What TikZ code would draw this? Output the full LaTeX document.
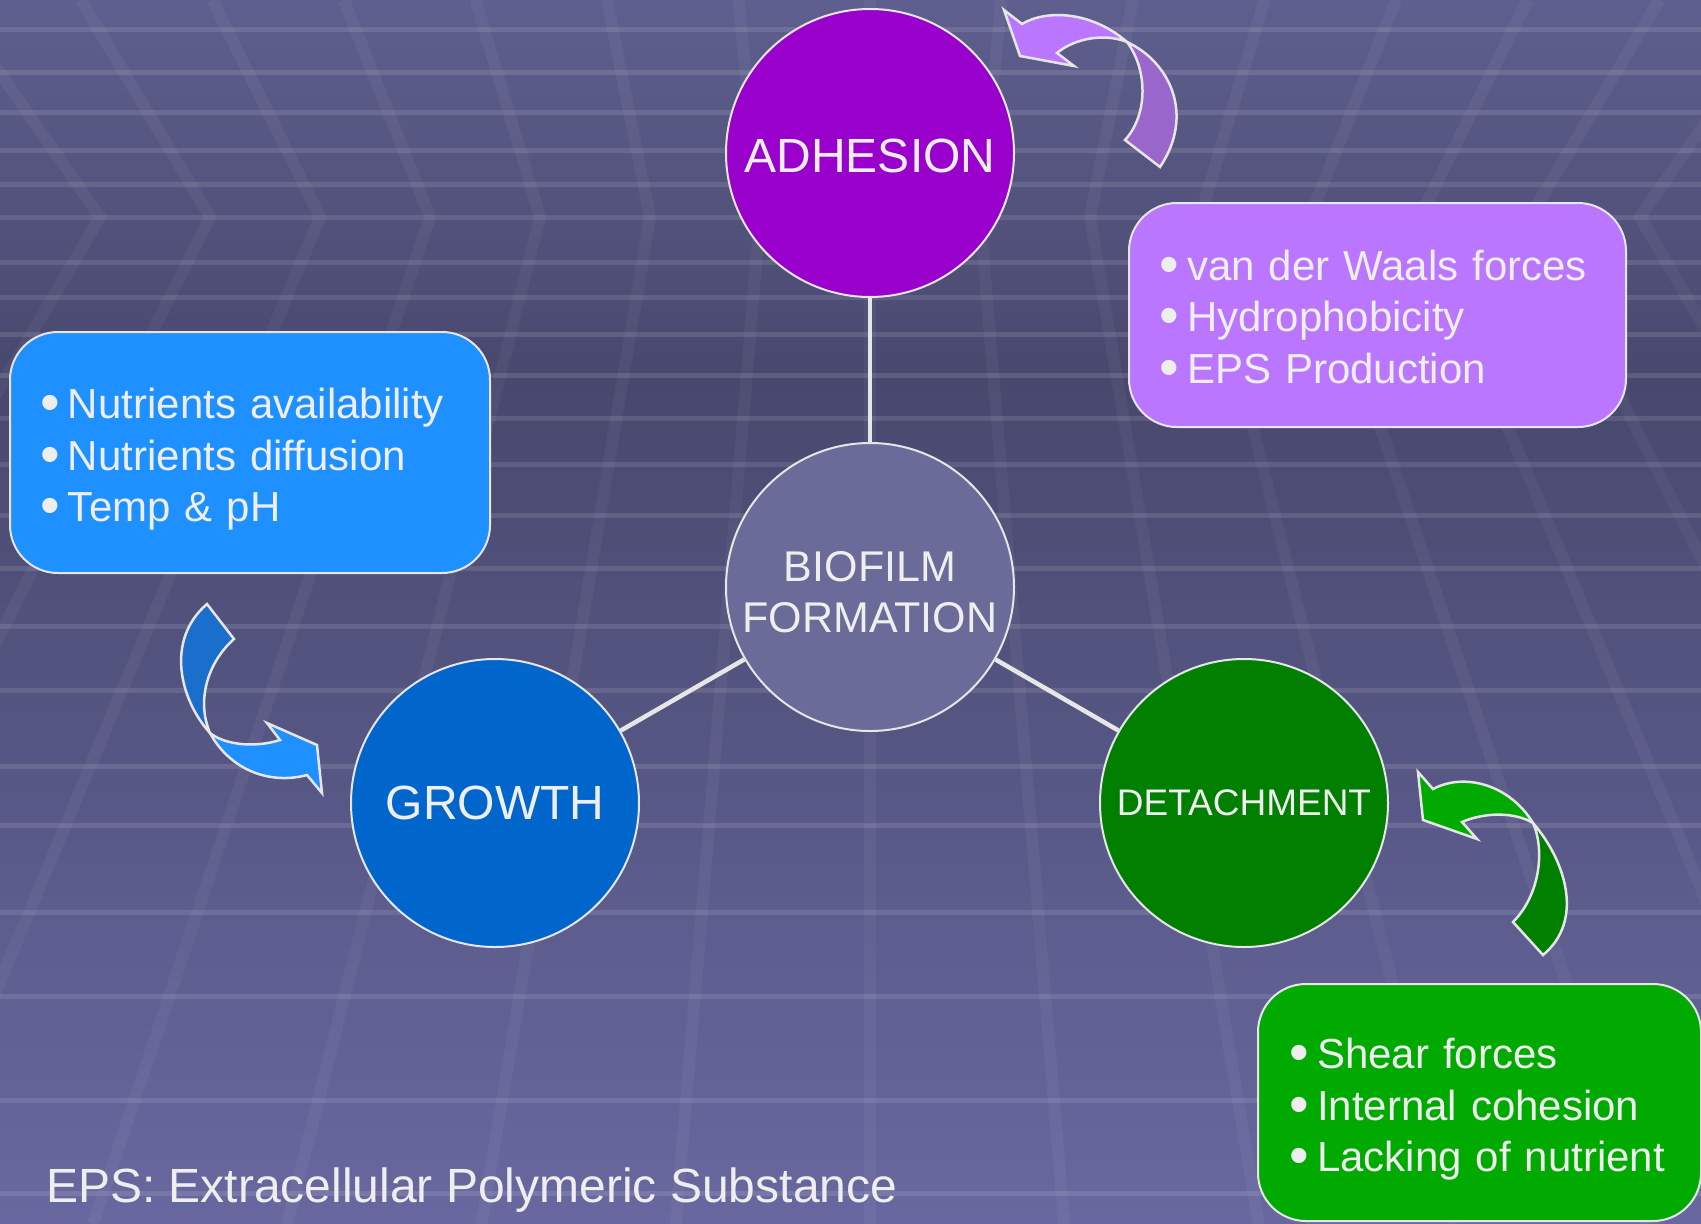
\documentclass[tikz,border=0pt]{standalone}
\usepackage{fontspec}
\setmainfont{Liberation Sans}
\usepackage{xcolor}
\definecolor{bgtop}{HTML}{5F5F8F}
\definecolor{bgmid}{HTML}{48486E}
\definecolor{bgbot}{HTML}{6868A0}
\definecolor{txtgray}{HTML}{EEEEEE}
\definecolor{edgegray}{HTML}{E6E6E6}
\definecolor{adhfill}{HTML}{9900CC}
\definecolor{adhbox}{HTML}{BA76FF}
\definecolor{adhdark}{HTML}{9966CC}
\definecolor{grofill}{HTML}{0066CC}
\definecolor{grobox}{HTML}{1E90FF}
\definecolor{grodark}{HTML}{1A6FCC}
\definecolor{detfill}{HTML}{007F00}
\definecolor{detbox}{HTML}{00AA00}
\definecolor{biofill}{HTML}{6B6B99}
\tikzset{
  phase/.style   = {circle, draw=edgegray, line width=2pt, inner sep=0pt,
                    minimum size=288pt, text=txtgray, align=center},
  factbox/.style = {draw=edgegray, line width=2pt, rounded corners=48pt,
                    text=txtgray, align=left, inner ysep=0pt,
                    font=\fontsize{42}{51.5}\selectfont},
  link/.style    = {draw=edgegray, line width=4.5pt},
  swirl/.style   = {draw=edgegray, line width=2.5pt, line join=miter},
  rowline/.style = {white, opacity=0.11, line width=5pt},
  rayline/.style = {white, opacity=0.045, line width=12pt},
}
\newcommand{\bul}[1]{\makebox[28pt][l]{\raisebox{-3pt}{\fontsize{56}{0}\selectfont•}}#1}
\newcommand{\topstrut}[1]{\rule{0pt}{#1}}

\begin{document}
\begin{tikzpicture}[x=1pt,y=-1pt]
\useasboundingbox (0,0) rectangle (1701,1224);
% background: perspective grid
\begin{scope}
\clip (0,0) rectangle (1701,1224);
\shade[top color=bgtop,bottom color=bgmid] (0,0) rectangle (1701,380);
\shade[top color=bgmid,bottom color=bgbot] (0,380) rectangle (1701,1224);
\foreach \y in {29,72,112,150,184,217,262,297,334,375,418,464,515,568,
                626,690,766,825,912,996,1100,1193}
  \draw[rowline] (0,\y) -- (1701,\y);
\foreach \k in {-12,...,12}
  \draw[rayline] ({870+110*\k*1.1957},0) -- ({870+110*\k},217)
                 -- ({870+110*\k*1.766},1224);
\end{scope}

% phases
\node[phase, fill=biofill, font=\fontsize{43}{51}\selectfont] (bio) at (870,587)
  {\topstrut{41pt}BIOFILM\\FORMATION};
\node[phase, fill=adhfill, font=\fontsize{48}{56}\selectfont] (adh) at (870,153)
  {\topstrut{40pt}ADHESION};
\node[phase, fill=grofill, font=\fontsize{48}{56}\selectfont] (gro) at (495,803)
  {GROWTH};
\node[phase, fill=detfill, font=\fontsize{37}{44}\selectfont] (det) at (1244,803)
  {DETACHMENT};
\draw[link] (adh) -- (bio);
\draw[link] (bio) -- (gro);
\draw[link] (bio) -- (det);

% factor boxes
\node[factbox, fill=grobox, text width=420pt, inner xsep=30pt,
      minimum height=241pt, anchor=north west] (grofact) at (9,331)
  {\topstrut{44pt}\bul{Nutrients availability}\\ \bul{Nutrients diffusion}\\ \bul{Temp \& pH}};
\node[factbox, fill=adhbox, text width=437pt, inner xsep=30pt,
      minimum height=224pt, anchor=north west] (adhfact) at (1128,202)
  {\topstrut{36pt}\bul{van der Waals forces}\\ \bul{Hydrophobicity}\\ \bul{EPS Production}};
\node[factbox, fill=detbox, text width=381pt, inner xsep=31pt,
      minimum height=237pt, anchor=north west] (detfact) at (1257,983)
  {\topstrut{44pt}\bul{Shear forces}\\ \bul{Internal cohesion}\\ \bul{Lacking of nutrient}};

% curved arrows
\filldraw[swirl, fill=adhdark] (1127,42) .. controls (1170,62) and (1195,115) .. (1160,167)
  -- (1125,140) .. controls (1148,115) and (1148,70) .. (1127,42) -- cycle;
\filldraw[swirl, fill=adhbox] (1127,42) .. controls (1090,10) and (1045,10) .. (1022,24)
  -- (1004,10) -- (1020,56) -- (1074,66) -- (1057,53)
  .. controls (1075,38) and (1105,33) .. (1127,42) -- cycle;

\filldraw[swirl, fill=grodark] (207,604) -- (234,639)
  .. controls (208,662) and (196,700) .. (210,733)
  .. controls (180,700) and (165,640) .. (207,604) -- cycle;
\filldraw[swirl, fill=grobox] (210,733) .. controls (230,770) and (270,785) .. (307,775)
  -- (322,793) -- (317,745) -- (267,723) -- (280,740)
  .. controls (255,748) and (225,745) .. (210,733) -- cycle;

\filldraw[swirl, fill=detfill] (1533,823) .. controls (1565,860) and (1585,920) .. (1543,955)
  -- (1513,922) .. controls (1540,895) and (1545,850) .. (1533,823) -- cycle;
\filldraw[swirl, fill=detbox] (1533,823) .. controls (1510,785) and (1465,772) .. (1433,789)
  -- (1418,772) -- (1423,820) -- (1477,839) -- (1462,822)
  .. controls (1485,812) and (1515,812) .. (1533,823) -- cycle;

\node[text=txtgray, font=\fontsize{48}{56}\selectfont, anchor=base west, inner sep=0pt]
  (epsnote) at (46,1202) {EPS: Extracellular Polymeric Substance};
\end{tikzpicture}
\end{document}
